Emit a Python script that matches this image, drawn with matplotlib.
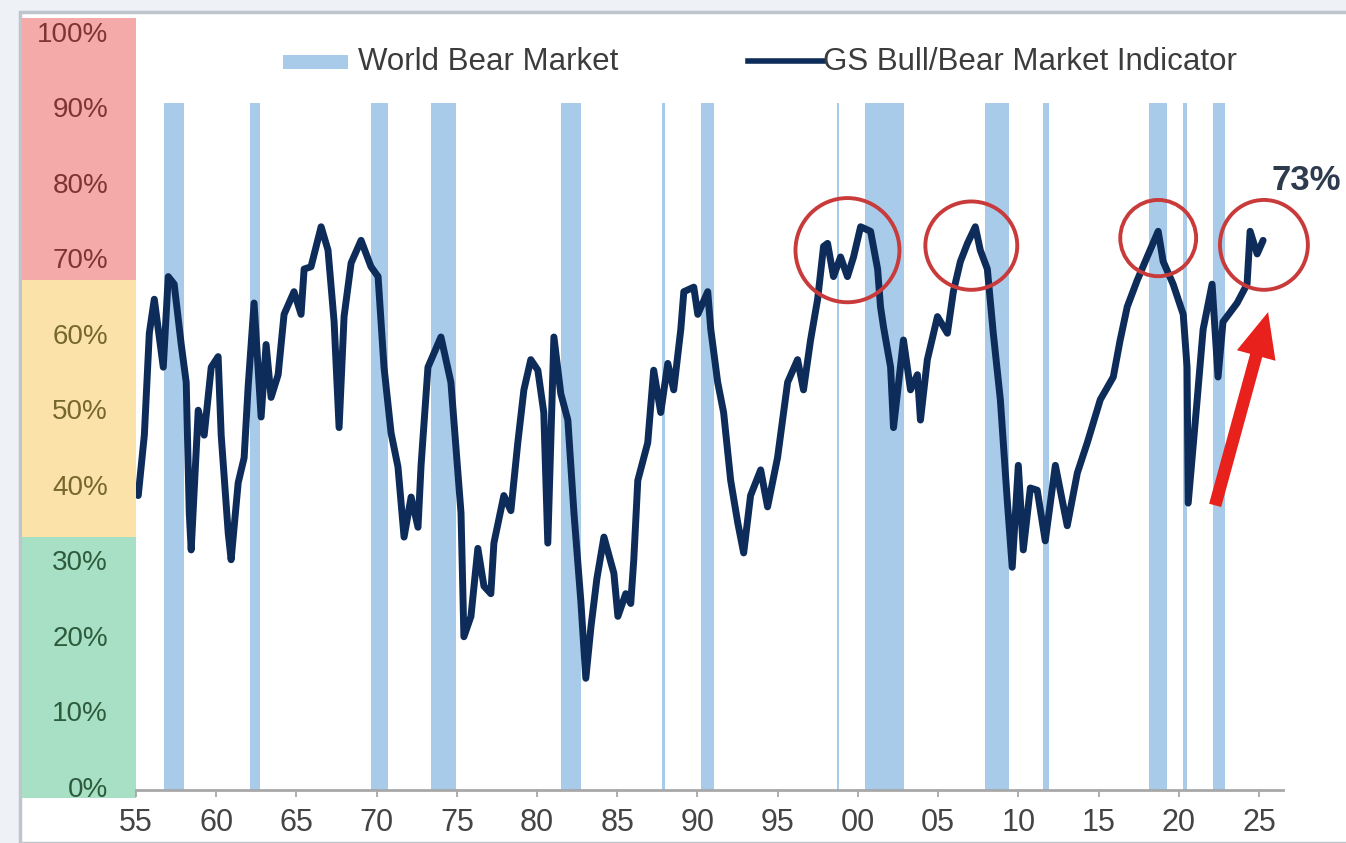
import matplotlib
matplotlib.use("Agg")
import matplotlib.pyplot as plt
from matplotlib.patches import Ellipse, Rectangle, FancyArrowPatch
from matplotlib.lines import Line2D

plt.rcParams['font.family'] = ['Liberation Sans', 'DejaVu Sans']

# ---------------- data ----------------
years = [1955.14, 1955.52, 1955.83, 1956.14, 1956.70, 1957.01, 1957.38, 1957.82, 1958.13, 1958.32,
         1958.44, 1958.88, 1959.25, 1959.69, 1960.12, 1960.31, 1960.75, 1960.93, 1961.37, 1961.74,
         1961.99, 1962.36, 1962.80, 1963.11, 1963.42, 1963.86, 1964.23, 1964.85, 1965.29, 1965.48,
         1965.91, 1966.54, 1966.97, 1967.35, 1967.66, 1967.97, 1968.41, 1969.03, 1969.65, 1970.09,
         1970.46, 1970.90, 1971.33, 1971.71, 1972.15, 1972.58, 1972.77, 1973.20, 1974.01, 1974.63,
         1975.26, 1975.44, 1975.88, 1976.31, 1976.69, 1977.12, 1977.31, 1977.93, 1978.37, 1978.80,
         1979.18, 1979.61, 1980.05, 1980.42, 1980.67, 1981.05, 1981.48, 1981.92, 1982.30, 1982.73,
         1983.04, 1983.36, 1983.73, 1984.17, 1984.79, 1985.04, 1985.53, 1985.84, 1986.03, 1986.28,
         1986.90, 1987.27, 1987.71, 1988.15, 1988.52, 1988.96, 1989.15, 1989.77, 1990.02, 1990.64,
         1990.83, 1991.26, 1991.63, 1992.07, 1992.51, 1992.88, 1993.31, 1993.94, 1994.37, 1994.99,
         1995.62, 1996.24, 1996.61, 1997.05, 1997.49, 1997.86, 1998.11, 1998.48, 1998.92, 1999.35,
         1999.73, 2000.17, 2000.79, 2001.23, 2001.41, 2001.60, 2002.04, 2002.22, 2002.84, 2003.28,
         2003.71, 2003.90, 2004.33, 2004.96, 2005.58, 2005.95, 2006.39, 2006.83, 2007.32, 2007.63,
         2008.07, 2008.44, 2008.88, 2009.31, 2009.62, 2010.00, 2010.31, 2010.75, 2011.18, 2011.68,
         2012.31, 2013.05, 2013.68, 2014.30, 2015.11, 2015.92, 2016.35, 2016.79, 2017.41, 2018.03,
         2018.72, 2019.03, 2019.65, 2020.28, 2020.52, 2020.59, 2021.15, 2021.52, 2022.08, 2022.45,
         2022.76, 2023.64, 2024.26, 2024.45, 2024.89, 2025.26]
indicator = [39.0, 47.0, 60.5, 65.0, 56.0, 68.0, 67.0, 59.0, 54.0, 36.7,
             31.8, 50.3, 47.0, 56.0, 57.4, 47.0, 34.0, 30.5, 40.7, 44.0,
             53.4, 64.5, 49.4, 59.0, 52.0, 55.0, 63.0, 66.0, 63.0, 69.0,
             69.3, 74.6, 71.5, 62.0, 48.0, 62.7, 69.8, 72.8, 69.3, 68.0,
             56.0, 47.3, 42.8, 33.5, 38.8, 34.8, 43.0, 56.0, 60.0, 54.0,
             36.7, 20.3, 23.0, 32.0, 27.0, 26.0, 32.7, 39.0, 37.0, 46.0,
             53.0, 57.0, 55.6, 50.0, 32.7, 60.0, 52.5, 49.0, 36.7, 25.0,
             14.8, 21.6, 28.0, 33.5, 28.7, 23.0, 26.0, 24.7, 30.5, 41.0,
             46.0, 55.6, 50.0, 56.5, 53.0, 61.0, 66.0, 66.6, 63.0, 66.0,
             61.0, 54.0, 50.0, 41.0, 35.4, 31.4, 39.0, 42.4, 37.5, 44.0,
             54.0, 57.0, 53.0, 59.6, 65.0, 72.0, 72.4, 68.0, 70.6, 68.0,
             70.6, 74.6, 74.0, 69.0, 64.0, 61.3, 56.0, 48.0, 59.6, 53.0,
             55.0, 49.0, 57.0, 62.7, 60.5, 66.0, 70.0, 72.4, 74.6, 71.5,
             69.0, 60.5, 51.7, 38.4, 29.5, 43.0, 31.8, 40.0, 39.7, 33.0,
             43.0, 35.0, 42.0, 46.0, 51.7, 54.7, 59.6, 64.0, 67.5, 70.6,
             74.0, 70.0, 67.0, 63.0, 56.0, 38.0, 51.7, 61.0, 67.0, 54.7,
             62.0, 64.5, 67.0, 74.0, 71.0, 72.8]

bear_start = [1956.76, 1962.12, 1969.65, 1973.39, 1981.48, 1987.80, 1990.23, 1998.67,
              2000.47, 2007.94, 2011.56, 2018.16, 2020.27, 2022.14]
bear_end = [1958.01, 1962.74, 1970.71, 1974.95, 1982.73, 1988.00, 1991.04, 1998.85,
            2002.90, 2009.43, 2011.93, 2019.28, 2020.52, 2022.89]
bear_level = 91

tick_years = [1955, 1960, 1965, 1970, 1975, 1980, 1985, 1990, 1995, 2000,
              2005, 2010, 2015, 2020, 2025]
tick_labels = ['55', '60', '65', '70', '75', '80', '85', '90', '95', '00',
               '05', '10', '15', '20', '25']
y_levels = [0, 10, 20, 30, 40, 50, 60, 70, 80, 90, 100]

zone_bounds = [-1.06, 33.5, 67.5, 102.25]
zone_colors = ['#A8E0C5', '#FBE2A8', '#F4AAA8']

highlight_x = [1999.35, 2007.07, 2018.72, 2025.31]
highlight_y = [71.5, 72.1, 73.1, 72.2]
highlight_w = [6.48, 5.73, 4.73, 5.48]
highlight_h = [13.8, 11.7, 10.1, 11.9]

latest_label = '73%'
arrow_tail = (2022.27, 37.7)
arrow_tip = (2025.57, 63.3)

# ---------------- figure ----------------
W, H = 1346, 843
fig = plt.figure(figsize=(W / 100, H / 100), dpi=100, facecolor='#EEF1F5')

def fx(px):
    return px / W

def fy(py):
    return 1 - py / H

# screenshot frame
frame = Rectangle((fx(20), 0), 1, fy(12), transform=fig.transFigure,
                  facecolor='white', edgecolor='#BFC5CC', lw=2.5, zorder=-10)
fig.patches.append(frame)

navy = '#0D2C5A'
blue = '#A7CBE9'

# left colored panel with % labels
axp = fig.add_axes([fx(22), fy(798), fx(136) - fx(22), fy(18) - fy(798)])
axp.set_xlim(0, 1)
axp.set_ylim(zone_bounds[0], zone_bounds[-1])
for lo, hi, c in zip(zone_bounds[:-1], zone_bounds[1:], zone_colors):
    axp.axhspan(lo, hi, color=c, lw=0)
axp.axis('off')
for v in y_levels:
    if v >= 70:
        col = '#7E3532'
    elif v >= 40:
        col = '#76672E'
    else:
        col = '#2D5B3C'
    axp.text(0.755, v, f'{v}%', ha='right', va='center', fontsize=20, color=col)

# main axes
ax = fig.add_axes([fx(136), fy(790), fx(1283) - fx(136), fy(18) - fy(790)])
ax.set_xlim(1955.08, 2026.5)
ax.set_ylim(0, 102.25)
ax.patch.set_alpha(0)

widths = [e - s for s, e in zip(bear_start, bear_end)]
ax.bar(bear_start, [bear_level] * len(bear_start), width=widths, align='edge',
       color=blue, lw=0, zorder=1)
ax.plot(years, indicator, color=navy, lw=5, zorder=3, solid_joinstyle='round',
        solid_capstyle='round')

for cx, cy, w, h in zip(highlight_x, highlight_y, highlight_w, highlight_h):
    ax.add_patch(Ellipse((cx, cy), w, h, fill=False, edgecolor='#C93A3A', lw=2.8,
                         zorder=4, clip_on=False))

arr = FancyArrowPatch(arrow_tail, arrow_tip,
                      arrowstyle='simple,head_width=1.6,head_length=1.8,tail_width=0.5',
                      mutation_scale=18, color='#E8211D', lw=0, shrinkA=0, shrinkB=0,
                      zorder=5, clip_on=False)
ax.add_patch(arr)

for s in ['left', 'top', 'right']:
    ax.spines[s].set_visible(False)
ax.spines['bottom'].set_color('#A8A8A8')
ax.spines['bottom'].set_linewidth(2)
ax.set_yticks([])
ax.set_xticks(tick_years)
ax.set_xticklabels(tick_labels)
ax.tick_params(axis='x', length=5, width=1.2, color='#A0A0A0', labelsize=22,
               labelcolor='#444444', pad=8)

# value label
fig.text(fx(1306), fy(180), latest_label, ha='center', va='center', fontsize=25,
         fontweight='bold', color='#2E3B4E')

# legend (manual)
fig.patches.append(Rectangle((fx(283), fy(69)), fx(348) - fx(283), fy(55) - fy(69),
                             transform=fig.transFigure, facecolor=blue, lw=0))
fig.text(fx(358), fy(62), 'World Bear Market', ha='left', va='center', fontsize=22.5,
         color='#3C3C3C')
fig.lines.append(Line2D([fx(748), fx(823)], [fy(61), fy(61)], transform=fig.transFigure,
                        color=navy, lw=4))
fig.text(fx(823), fy(62), 'GS Bull/Bear Market Indicator', ha='left', va='center',
         fontsize=22.5, color='#3C3C3C')

fig.savefig('out.png', dpi=100, facecolor=fig.get_facecolor())
